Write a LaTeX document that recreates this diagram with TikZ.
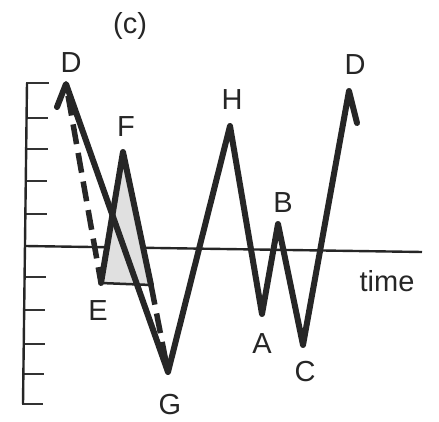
\documentclass[tikz,border=0pt]{standalone}
\usepackage{fontspec}
\setmainfont{Liberation Sans}
\begin{document}
\begin{tikzpicture}[x=1pt,y=-1pt,
  lbl/.style={inner sep=0pt,font=\fontsize{29}{34}\selectfont,text=black!85},
  thickline/.style={line width=6pt,black!85,line join=round,line cap=round},
  dashline/.style={line width=5.5pt,black!85,dash pattern=on 20pt off 9pt,line cap=butt},
  axisline/.style={line width=2.4pt,black!85},
  tickline/.style={line width=2pt,black!80}]
\useasboundingbox (0,0) rectangle (439,422);
% axes
\coordinate (vt) at (27,83);
\coordinate (vb) at (23,404);
\coordinate (hl) at (25,246);
\coordinate (hr) at (422,252);
\draw[tickline] (26,83) -- (49,83) (26,118) -- (48,118) (25,149) -- (48,149)
  (25,181) -- (47,181) (25,214) -- (47,214) (24,277) -- (46,277)
  (24,310) -- (45,310) (23,344) -- (45,344) (23,374) -- (44,374)
  (22,404) -- (43,404);
\draw[axisline] (vt) -- (vb);
\draw[axisline] (hl) -- (hr);
% key points
\coordinate (s0) at (57,107);
\coordinate (D1) at (66,84);
\coordinate (E) at (101,283);
\coordinate (F) at (123,152);
\coordinate (E2) at (151,285);
\coordinate (G) at (168,372);
\coordinate (H) at (230,126);
\coordinate (A) at (262,314);
\coordinate (B) at (278,224);
\coordinate (C) at (303,345);
\coordinate (D2) at (349,91);
\coordinate (s1) at (357,123);
% shaded cycle
\fill[black!12] (E) -- (F) -- (E2) -- cycle;
\draw[line width=2.5pt,black!85] (E) -- (E2);
\draw[thickline] (E) -- (F) -- (E2);
% dashed original path
\draw[dashline,dash phase=-12pt] (D1) -- (E);
\draw[dashline] (E2) -- (G);
% main path
\draw[thickline] (s0) -- (D1) -- (G) -- (H) -- (A) -- (B) -- (C) -- (D2) -- (s1);
% labels
\node[lbl] (lc) at (130,26) {(c)};
\node[lbl] (lD1) at (71,63) {D};
\node[lbl] (lF) at (126,127) {F};
\node[lbl] (lE) at (98,311) {E};
\node[lbl] (lG) at (170,405) {G};
\node[lbl] (lH) at (232,100) {H};
\node[lbl] (lB) at (283,203) {B};
\node[lbl] (lA) at (262,344) {A};
\node[lbl] (lC) at (305,372) {C};
\node[lbl] (lD2) at (355,65) {D};
\node[lbl] (ltime) at (387,281) {time};
\end{tikzpicture}
\end{document}
